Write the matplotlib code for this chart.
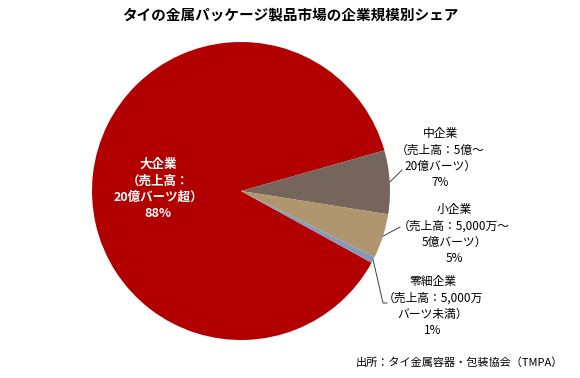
import numpy as np
import matplotlib
matplotlib.use('Agg')
import matplotlib.pyplot as plt

plt.rcParams['font.family'] = ['Noto Sans CJK JP', 'DejaVu Sans']

# データ (シェア %)
labels = ['大企業\n（売上高：\n20億バーツ超）\n88%',
          '中企業\n（売上高：5億～\n20億バーツ）\n7%',
          '小企業\n（売上高：5,000万～\n5億バーツ）\n5%',
          '零細企業\n（売上高：5,000万\nバーツ未満）\n1%']
shares = [87.6, 6.9, 4.8, 0.7]
colors = ['#B20000', '#75655A', '#B0966F', '#8799B6']

W, H = 580, 378
fig = plt.figure(figsize=(W / 100, H / 100), dpi=100)
ax = fig.add_axes([0, 0, 1, 1])

cx, cy, r = 241, H - 191, 149
wedges, _ = ax.pie(shares, colors=colors, startangle=-28.8, counterclock=False,
                   center=(cx, cy), radius=r, wedgeprops=dict(linewidth=0))
ax.set_xlim(0, W)
ax.set_ylim(0, H)
ax.set_aspect('equal')
ax.axis('off')

def edge(w):
    a = np.deg2rad((w.theta1 + w.theta2) / 2)
    return cx + r * np.cos(a), cy + r * np.sin(a)

# 大企業ラベル (白字)
ax.text(158, H - 189, labels[0], color='white', fontsize=9, fontweight='bold',
        ha='center', va='center', linespacing=1.35)

# 右側ラベル
ax.text(440, H - 158, labels[1], fontsize=8.5, ha='center', va='center', linespacing=1.34)
ax.text(454, H - 234, labels[2], fontsize=8.5, ha='center', va='center', linespacing=1.34)
ax.text(433, H - 306, labels[3], fontsize=8.5, ha='center', va='center', linespacing=1.34)

# 引き出し線
x0, y0 = edge(wedges[1])
ax.plot([x0, 402], [y0, H - 170], color='#404040', lw=0.7)
x0, y0 = edge(wedges[2])
ax.plot([x0, 400], [y0, H - 227], color='#404040', lw=0.7)
x0, y0 = edge(wedges[3])
ax.plot([x0, 383, 387], [y0, H - 303, H - 303], color='#404040', lw=0.7)

fig.text(0.5, 1 - 15 / H, 'タイの金属パッケージ製品市場の企業規模別シェア',
         fontsize=10.5, fontweight='bold', ha='center', va='center')
fig.text(563 / W, 1 - 363 / H, '出所：タイ金属容器・包装協会（TMPA）',
         fontsize=8, ha='right', va='center')

fig.savefig('out.png', dpi=100)
